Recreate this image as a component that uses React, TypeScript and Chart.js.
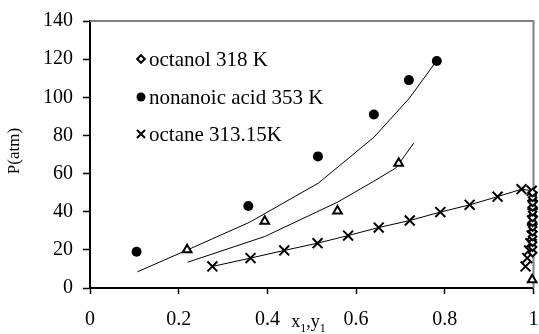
import React, { useEffect, useRef } from 'react';
import { Chart, registerables } from 'chart.js';

Chart.register(...registerables);

// ---- data ----
const octanolLiqX = [0.219, 0.394, 0.558, 0.696, 0.997];
const octanolLiqY = [20, 35, 40.4, 65.4, 4.3];

const octanolVapX = [0.998, 0.998, 0.998, 0.998, 0.998, 0.998, 0.998, 0.998, 0.998, 0.998, 0.998, 0.998, 0.998];
const octanolVapY = [18.5, 21.5, 24, 27, 29.5, 32, 34.5, 37, 40, 42.5, 45, 47.5, 50];

const nonanoicX = [0.105, 0.357, 0.514, 0.64, 0.719, 0.782];
const nonanoicY = [19, 43, 69, 91, 109, 119];

const octaneLiqX = [0.276, 0.362, 0.438, 0.513, 0.582, 0.651, 0.721, 0.79, 0.856, 0.919, 0.973];
const octaneLiqY = [11.3, 15.7, 19.7, 23.5, 27.5, 31.7, 35.4, 39.8, 43.6, 47.9, 51.8];

const octaneVapX = [0.996, 0.998, 0.998, 0.998, 0.997, 0.997, 0.996, 0.993, 0.99, 0.986, 0.982];
const octaneVapY = [51, 47.9, 43.6, 39.8, 35.4, 31.7, 27.5, 23.5, 19.7, 15.7, 11.3];

const nonanoicModelX = [0.107, 0.22, 0.36, 0.515, 0.64, 0.72, 0.778];
const nonanoicModelY = [8.5, 20, 34.5, 55, 79, 99.5, 118];

const octanolModelX = [0.22, 0.394, 0.558, 0.64, 0.69, 0.73];
const octanolModelY = [13.5, 27, 45, 56, 63, 76];

const octaneModelX = [...octaneLiqX, 0.996];
const octaneModelY = [...octaneLiqY, 51];

const legendLabels = ['octanol 318 K', 'nonanoic acid 353 K', 'octane 313.15K'];
const legendMarkers = ['diamond', 'circle', 'cross'];
const yTitle = 'P(atm)';

const xTickValues = [0, 0.2, 0.4, 0.6, 0.8, 1];
const yTickMax = 140;

const FONT = '"Liberation Serif", "Times New Roman", serif';

const pts = (xs: number[], ys: number[]) => xs.map((x, i) => ({ x, y: ys[i] }));

function drawMarker(ctx: CanvasRenderingContext2D, kind: string, x: number, y: number) {
  ctx.save();
  ctx.strokeStyle = '#000';
  ctx.fillStyle = '#000';
  ctx.lineWidth = 2;
  ctx.beginPath();
  if (kind === 'diamond') {
    const r = 3.8;
    ctx.moveTo(x - r, y);
    ctx.lineTo(x, y - r);
    ctx.lineTo(x + r, y);
    ctx.lineTo(x, y + r);
    ctx.closePath();
    ctx.fillStyle = '#fff';
    ctx.fill();
    ctx.stroke();
  } else if (kind === 'circle') {
    ctx.arc(x, y, 4.5, 0, Math.PI * 2);
    ctx.fill();
  } else {
    const r = 4;
    ctx.moveTo(x - r, y - r);
    ctx.lineTo(x + r, y + r);
    ctx.moveTo(x + r, y - r);
    ctx.lineTo(x - r, y + r);
    ctx.stroke();
  }
  ctx.restore();
}

const framePlugin = {
  id: 'frameBox',
  beforeDatasetsDraw(chart: any) {
    const { ctx, chartArea } = chart;
    ctx.save();
    ctx.strokeStyle = '#808080';
    ctx.lineWidth = 2;
    ctx.beginPath();
    ctx.moveTo(chartArea.left, chartArea.top);
    ctx.lineTo(chartArea.right, chartArea.top);
    ctx.lineTo(chartArea.right, chartArea.bottom);
    ctx.stroke();
    ctx.restore();
  },
  afterDraw(chart: any) {
    const { ctx, chartArea } = chart;
    ctx.save();
    ctx.font = `21px ${FONT}`;
    ctx.fillStyle = '#000';
    ctx.textBaseline = 'middle';
    ctx.textAlign = 'left';
    const rowOffsets = [38, 76, 113];
    legendLabels.forEach((label, i) => {
      const y = chartArea.top + rowOffsets[i];
      drawMarker(ctx, legendMarkers[i], chartArea.left + 51, y);
      ctx.fillText(label, chartArea.left + 59, y + 1);
    });
    // y axis title
    ctx.save();
    ctx.translate(15, chartArea.top + 130);
    ctx.rotate(-Math.PI / 2);
    ctx.font = `17px ${FONT}`;
    ctx.textAlign = 'center';
    ctx.textBaseline = 'middle';
    ctx.fillText(yTitle, 0, 0);
    ctx.restore();
    // x axis title with subscripts
    let x = chartArea.left + 0.454 * (chartArea.right - chartArea.left);
    const base = 327;
    ctx.textBaseline = 'alphabetic';
    ctx.textAlign = 'left';
    const parts: [string, boolean][] = [['x', false], ['1', true], [',y', false], ['1', true]];
    parts.forEach(([t, sub]) => {
      ctx.font = sub ? `12px ${FONT}` : `18px ${FONT}`;
      ctx.fillText(t, x, sub ? base + 5 : base);
      x += ctx.measureText(t).width;
    });
    ctx.restore();
  },
};

export default function App() {
  const ref = useRef<HTMLCanvasElement | null>(null);
  useEffect(() => {
    if (!ref.current) return;
    document.body.style.margin = '0';
    Chart.defaults.font.family = FONT;
    Chart.defaults.color = '#000';
    const lineDs = (xs: number[], ys: number[]) => ({
      data: pts(xs, ys),
      showLine: true,
      borderColor: '#000',
      borderWidth: 1,
      pointRadius: 0,
      fill: false,
      clip: false as any,
      order: 2,
    });
    const chart = new Chart(ref.current, {
      type: 'scatter',
      data: {
        datasets: [
          lineDs(nonanoicModelX, nonanoicModelY),
          lineDs(octanolModelX, octanolModelY),
          lineDs(octaneModelX, octaneModelY),
          {
            label: legendLabels[0],
            data: pts(octanolVapX, octanolVapY),
            pointStyle: 'rectRot',
            pointRadius: 3.8,
            pointBorderWidth: 2,
            pointBackgroundColor: '#fff',
            pointBorderColor: '#000',
            clip: false as any,
            order: 1,
          },
          {
            label: 'octanol liquid',
            data: pts(octanolLiqX, octanolLiqY),
            pointStyle: 'triangle',
            pointRadius: 5,
            pointBorderWidth: 2,
            pointBackgroundColor: '#fff',
            pointBorderColor: '#000',
            clip: false as any,
            order: 1,
          },
          {
            label: legendLabels[1],
            data: pts(nonanoicX, nonanoicY),
            pointStyle: 'circle',
            pointRadius: 5,
            pointBorderWidth: 0,
            pointBackgroundColor: '#000',
            pointBorderColor: '#000',
            clip: false as any,
            order: 1,
          },
          {
            label: legendLabels[2],
            data: pts(octaneLiqX, octaneLiqY),
            pointStyle: 'crossRot',
            pointRadius: 7,
            pointBorderWidth: 2,
            pointBorderColor: '#000',
            clip: false as any,
            order: 1,
          },
          {
            label: 'octane vapour',
            data: pts(octaneVapX, octaneVapY),
            pointStyle: 'crossRot',
            pointRadius: 7,
            pointBorderWidth: 2,
            pointBorderColor: '#000',
            clip: false as any,
            order: 1,
          },
        ],
      },
      options: {
        animation: false,
        responsive: false,
        layout: { autoPadding: false, padding: { left: 0, top: 21, right: 5.5, bottom: 0 } },
        plugins: { legend: { display: false }, tooltip: { enabled: false } },
        scales: {
          x: {
            type: 'linear',
            min: 0,
            max: 1,
            afterBuildTicks: (s: any) => {
              s.ticks = xTickValues.map((v) => ({ value: v }));
            },
            ticks: {
              font: { size: 20 },
              padding: 14,
              color: '#000',
              maxRotation: 0,
              callback: (v: any) => String(Math.round(Number(v) * 10) / 10),
            },
            grid: { drawOnChartArea: false, drawTicks: true, tickLength: 6, tickColor: '#000', tickWidth: 1.5 },
            border: { color: '#000', width: 2 },
            afterFit: (s: any) => {
              s.height = 46;
              s.paddingRight = 0;
              s.paddingLeft = 0;
            },
          },
          y: {
            type: 'linear',
            min: 0,
            max: yTickMax,
            ticks: { stepSize: 20, font: { size: 20 }, padding: 10, color: '#000' },
            grid: { drawOnChartArea: false, drawTicks: true, tickLength: 7, tickColor: '#000', tickWidth: 1.5 },
            border: { color: '#000', width: 2 },
            afterFit: (s: any) => {
              s.width = 90;
              s.paddingTop = 0;
              s.paddingBottom = 0;
            },
          },
        },
      },
      plugins: [framePlugin],
    });
    return () => chart.destroy();
  }, []);
  return (
    <div style={{ position: 'absolute', left: 0, top: 0, width: 539, height: 334 }}>
      <canvas ref={ref} width={539} height={334} style={{ display: 'block' }} />
    </div>
  );
}
